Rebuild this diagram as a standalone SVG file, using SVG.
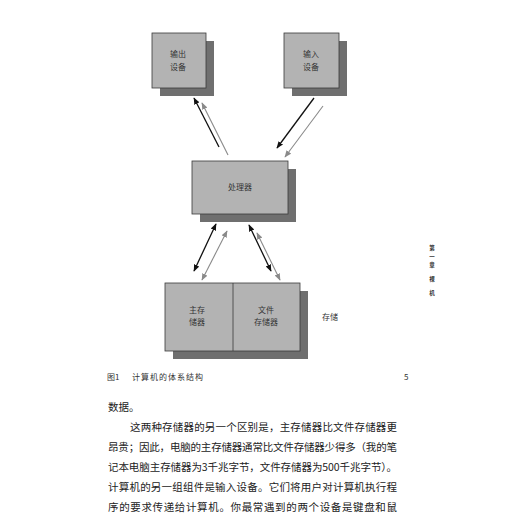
<svg xmlns="http://www.w3.org/2000/svg" width="520" height="520" viewBox="0 0 520 520">
<style>
.front{fill:#b3b3b3;stroke:#3a3a3a;stroke-width:0.8}
.shadow{fill:#6f6f6f}
.lbl{font-family:"Noto Sans CJK SC",sans-serif;font-size:8px;fill:#333;text-anchor:middle}
.blk{stroke:#111;stroke-width:1.3;fill:none}
.gry{stroke:#8a8a8a;stroke-width:1.1;fill:none}
.body{font-family:"Noto Sans CJK SC",sans-serif;font-size:10.5px;fill:#222}
.cap{font-family:"Noto Sans CJK SC",sans-serif;font-size:8px;fill:#333}
.side{font-family:"Noto Sans CJK SC",sans-serif;font-size:5.5px;font-weight:bold;fill:#333;text-anchor:middle}
</style>
<defs>
<marker id="hb" viewBox="0 0 10 10" refX="9" refY="5" markerWidth="7" markerHeight="7" markerUnits="userSpaceOnUse" orient="auto-start-reverse"><path d="M0,1 L10,5 L0,9 Z" fill="#111"/></marker>
<marker id="hg" viewBox="0 0 10 10" refX="9" refY="5" markerWidth="7" markerHeight="7" markerUnits="userSpaceOnUse" orient="auto-start-reverse"><path d="M0,1 L10,5 L0,9 Z" fill="#8a8a8a"/></marker>
</defs>
<rect width="520" height="520" fill="#fff"/>
<g id="output">
<rect class="shadow" x="160" y="41" width="54" height="55"/>
<rect class="front" x="152" y="33" width="54" height="55"/>
<text class="lbl" x="178" y="57">输出</text>
<text class="lbl" x="178" y="70">设备</text>
</g>
<g id="input">
<rect class="shadow" x="292" y="41" width="55" height="55"/>
<rect class="front" x="284" y="33" width="55" height="55"/>
<text class="lbl" x="311" y="57">输入</text>
<text class="lbl" x="311" y="70">设备</text>
</g>
<g id="processor">
<rect class="shadow" x="200" y="169" width="96" height="53"/>
<rect class="front" x="192" y="161" width="96" height="53"/>
<text class="lbl" x="240" y="190">处理器</text>
</g>
<g id="storage">
<rect class="shadow" x="173" y="291" width="135" height="68"/>
<rect class="front" x="165" y="283" width="135" height="68"/>
<line x1="233" y1="283" x2="233" y2="351" stroke="#3a3a3a" stroke-width="0.8"/>
<text class="lbl" x="197" y="313">主存</text>
<text class="lbl" x="197" y="325">储器</text>
<text class="lbl" x="266" y="313">文件</text>
<text class="lbl" x="266" y="325">存储器</text>
<text class="lbl" x="330" y="320">存储</text>
</g>
<g id="connectors">
<line class="blk" x1="219" y1="147" x2="194" y2="98" marker-end="url(#hb)"/>
<line class="gry" x1="228" y1="155" x2="202" y2="103" marker-end="url(#hg)"/>
<line class="blk" x1="314" y1="98" x2="277" y2="148" marker-end="url(#hb)"/>
<line class="gry" x1="323" y1="106" x2="285" y2="157" marker-end="url(#hg)"/>
<line class="blk" x1="216" y1="224" x2="194" y2="271" marker-start="url(#hb)" marker-end="url(#hb)"/>
<line class="gry" x1="227" y1="231" x2="202" y2="280" marker-start="url(#hg)" marker-end="url(#hg)"/>
<line class="blk" x1="249" y1="225" x2="271" y2="271" marker-start="url(#hb)" marker-end="url(#hb)"/>
<line class="gry" x1="257" y1="233" x2="280" y2="280" marker-start="url(#hg)" marker-end="url(#hg)"/>
</g>
<g id="sidebar">
<text class="side" x="432" y="250">第</text>
<text class="side" x="432" y="258.5">一</text>
<text class="side" x="432" y="267">章</text>
<text class="side" x="432" y="281">裸</text>
<text class="side" x="432" y="295">机</text>
</g>
<g id="caption">
<text class="cap" x="107" y="380">图1</text>
<text class="cap" x="132" y="380" textLength="71" lengthAdjust="spacing">计算机的体系结构</text>
<text class="cap" x="404" y="380" font-family="Liberation Serif,serif">5</text>
</g>
<g id="bodytext">
<text class="body" x="108" y="411">数据。</text>
<text class="body" x="130" y="431" textLength="267" lengthAdjust="spacing">这两种存储器的另一个区别是，主存储器比文件存储器更</text>
<text class="body" x="108" y="451" textLength="289" lengthAdjust="spacing">昂贵；因此，电脑的主存储器通常比文件存储器少得多（我的笔</text>
<text class="body" x="108" y="471" textLength="289" lengthAdjust="spacing">记本电脑主存储器为3千兆字节，文件存储器为500千兆字节）。</text>
<text class="body" x="108" y="491" textLength="289" lengthAdjust="spacing">计算机的另一组组件是输入设备。它们将用户对计算机执行程</text>
<text class="body" x="108" y="511" textLength="289" lengthAdjust="spacing">序的要求传递给计算机。你最常遇到的两个设备是键盘和鼠</text>
</g>
</svg>
